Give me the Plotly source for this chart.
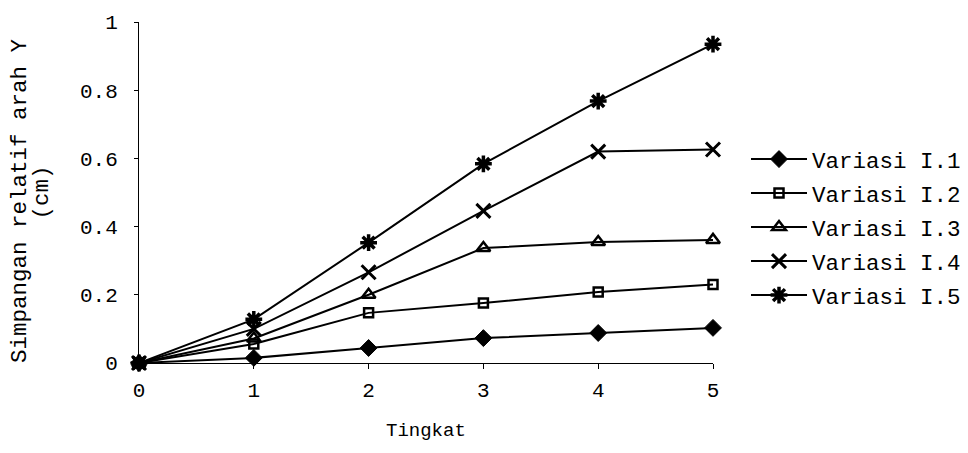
import plotly.graph_objects as go

tingkat = [0, 1, 2, 3, 4, 5]
variasi_1 = [0, 0.015, 0.044, 0.073, 0.088, 0.103]
variasi_2 = [0, 0.056, 0.147, 0.176, 0.208, 0.230]
variasi_3 = [0, 0.072, 0.200, 0.337, 0.355, 0.361]
variasi_4 = [0, 0.100, 0.266, 0.446, 0.620, 0.626]
variasi_5 = [0, 0.128, 0.353, 0.584, 0.768, 0.935]
names = ["Variasi I.1", "Variasi I.2", "Variasi I.3", "Variasi I.4", "Variasi I.5"]
y_ticks = [0, 0.2, 0.4, 0.6, 0.8, 1]
y_tick_text = ["0", "0.2", "0.4", "0.6", "0.8", "1"]

FONT = "Liberation Mono, Courier New, monospace"

markers = [
    dict(symbol="diamond", size=13, color="black", line=dict(color="black", width=1)),
    dict(symbol="square-open", size=9, color="black", line=dict(color="black", width=2.5)),
    dict(symbol="triangle-up-open", size=12, color="black", line=dict(color="black", width=2.5)),
    dict(symbol="x-thin-open", size=14, color="black", line=dict(color="black", width=3)),
    dict(symbol="asterisk-open", size=14, color="black", line=dict(color="black", width=3.5)),
]

fig = go.Figure()
for i, (name, ys) in enumerate(zip(names, [variasi_1, variasi_2, variasi_3, variasi_4, variasi_5])):
    fig.add_trace(go.Scatter(
        x=tingkat, y=ys, name=name, mode="lines+markers",
        line=dict(color="black", width=2),
        marker=markers[i],
        cliponaxis=False,
        legendgroup=f"g{i}",
    ))

fig.update_layout(
    width=960, height=445,
    margin=dict(l=131, r=255, t=14, b=90, autoexpand=False),
    paper_bgcolor="white", plot_bgcolor="white",
    font=dict(family=FONT, size=21, color="black"),
    showlegend=True,
    legend=dict(
        x=1.0575, y=0.66, xanchor="left", yanchor="top",
        font=dict(family=FONT, size=22.5, color="black"),
        tracegroupgap=1.75, itemwidth=56,
        bgcolor="rgba(0,0,0,0)",
    ),
    xaxis=dict(
        range=[0, 5], tickvals=tingkat, ticktext=[str(t) for t in tingkat],
        showline=True, linecolor="black", linewidth=1,
        ticks="outside", ticklen=5, tickcolor="black",
        showgrid=False, zeroline=False, automargin=False,
        tickfont=dict(family=FONT, size=21),
        ticklabelstandoff=3,
    ),
    yaxis=dict(
        range=[0, 1], tickvals=y_ticks, ticktext=y_tick_text,
        showline=True, linecolor="black", linewidth=1,
        ticks="outside", ticklen=4, tickcolor="black",
        showgrid=False, zeroline=False, automargin=False,
        tickfont=dict(family=FONT, size=21),
        ticklabelstandoff=12,
    ),
    annotations=[
        dict(text="Tingkat", xref="paper", yref="paper", x=0.5, y=-0.2,
             xanchor="center", yanchor="middle", showarrow=False,
             font=dict(family=FONT, size=19)),
        dict(text="Simpangan relatif arah Y", xref="paper", yref="paper",
             x=-0.2073, y=0.475, xanchor="center", yanchor="middle", showarrow=False,
             textangle=-90, font=dict(family=FONT, size=22.5)),
        dict(text="(cm)", xref="paper", yref="paper",
             x=-0.169, y=0.5, xanchor="center", yanchor="middle", showarrow=False,
             textangle=-90, font=dict(family=FONT, size=22.5)),
    ],
)

fig.write_html("out.html")
